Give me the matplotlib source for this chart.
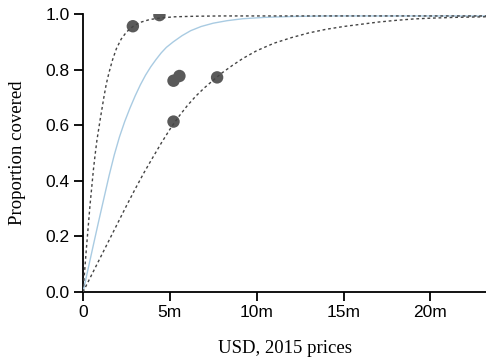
import matplotlib
matplotlib.use("Agg")
import matplotlib.pyplot as plt

# Curves (x in millions of USD, y = proportion covered)
upper_x = [0, 0.1, 0.2, 0.3, 0.4, 0.5, 0.6, 0.7, 0.8, 0.9, 1.0, 1.1, 1.2, 1.34, 1.5, 1.7, 1.92, 2.2, 2.5, 2.87, 3.3, 3.83, 4.5, 5.3, 6.5, 8, 12, 23.2]
upper_y = [0, 0.08, 0.16, 0.235, 0.31, 0.375, 0.44, 0.495, 0.545, 0.585, 0.625, 0.662, 0.7, 0.748, 0.79, 0.835, 0.875, 0.91, 0.935, 0.955, 0.97, 0.98, 0.986, 0.99, 0.992, 0.993, 0.993, 0.993]

mid_x = [0, 0.3, 0.6, 0.9, 1.2, 1.5, 1.8, 2.1, 2.4, 2.7, 3.0, 3.3, 3.6, 3.9, 4.2, 4.5, 4.8, 5.2, 5.7, 6.2, 6.8, 7.5, 8.3, 9.2, 10.5, 12, 14, 23.2]
mid_y = [0, 0.085, 0.17, 0.254, 0.336, 0.418, 0.493, 0.558, 0.613, 0.661, 0.705, 0.745, 0.78, 0.81, 0.836, 0.86, 0.88, 0.9, 0.922, 0.94, 0.955, 0.967, 0.976, 0.983, 0.988, 0.991, 0.993, 0.993]

lower_x = [0, 0.5, 1.0, 1.5, 2.0, 2.5, 3.0, 3.5, 4.0, 4.5, 5.0, 5.5, 6.0, 6.5, 7.0, 7.5, 8.0, 8.6, 9.2, 10, 11, 12, 13, 14, 15, 16, 17, 18, 19, 20, 21.5, 23.2]
lower_y = [0, 0.062, 0.124, 0.186, 0.248, 0.31, 0.37, 0.428, 0.482, 0.535, 0.585, 0.63, 0.67, 0.705, 0.735, 0.762, 0.788, 0.815, 0.84, 0.868, 0.895, 0.915, 0.932, 0.945, 0.955, 0.963, 0.971, 0.977, 0.982, 0.985, 0.988, 0.99]

# Observed points
pts_x = [2.87, 4.4, 5.21, 5.55, 7.72, 5.21]
pts_y = [0.956, 0.996, 0.76, 0.777, 0.772, 0.613]

x_ticks = [0, 5, 10, 15, 20]
x_tick_labels = ["0", "5m", "10m", "15m", "20m"]
y_ticks = [0.0, 0.2, 0.4, 0.6, 0.8, 1.0]
y_tick_labels = ["0.0", "0.2", "0.4", "0.6", "0.8", "1.0"]

fig = plt.figure(figsize=(4.86, 3.64), dpi=100)
ax = fig.add_axes([83 / 486, 72 / 364, 1 - 83 / 486, 278 / 364])

ax.scatter(pts_x, pts_y, s=80, color="#5a5a5a", edgecolors="none", zorder=2)
ax.plot(mid_x, mid_y, color="#a9cbe2", lw=1.0, zorder=3, solid_joinstyle="round")
ax.plot(upper_x, upper_y, color="#444444", lw=1.0, ls=(0, (2, 2)), zorder=3)
ax.plot(lower_x, lower_y, color="#444444", lw=1.0, ls=(0, (2, 2)), zorder=3)

ax.set_xlim(0, 23.2)
ax.set_ylim(0, 1.0)
ax.set_xticks(x_ticks)
ax.set_xticklabels(x_tick_labels)
ax.set_yticks(y_ticks)
ax.set_yticklabels(y_tick_labels)

for s in ["top", "right"]:
    ax.spines[s].set_visible(False)
for s in ["left", "bottom"]:
    ax.spines[s].set_linewidth(1.3)
    ax.spines[s].set_color("black")

ax.tick_params(axis="both", direction="out", length=6.5, width=1.3, pad=3,
               labelsize=12.5, colors="black")
for lab in ax.get_xticklabels() + ax.get_yticklabels():
    lab.set_fontfamily("Liberation Sans")

ax.set_xlabel("USD, 2015 prices", fontfamily="Liberation Serif", fontsize=13.5, labelpad=14)
ax.set_ylabel("Proportion covered", fontfamily="Liberation Serif", fontsize=13.5, labelpad=14)

fig.savefig("out.png", dpi=100)
